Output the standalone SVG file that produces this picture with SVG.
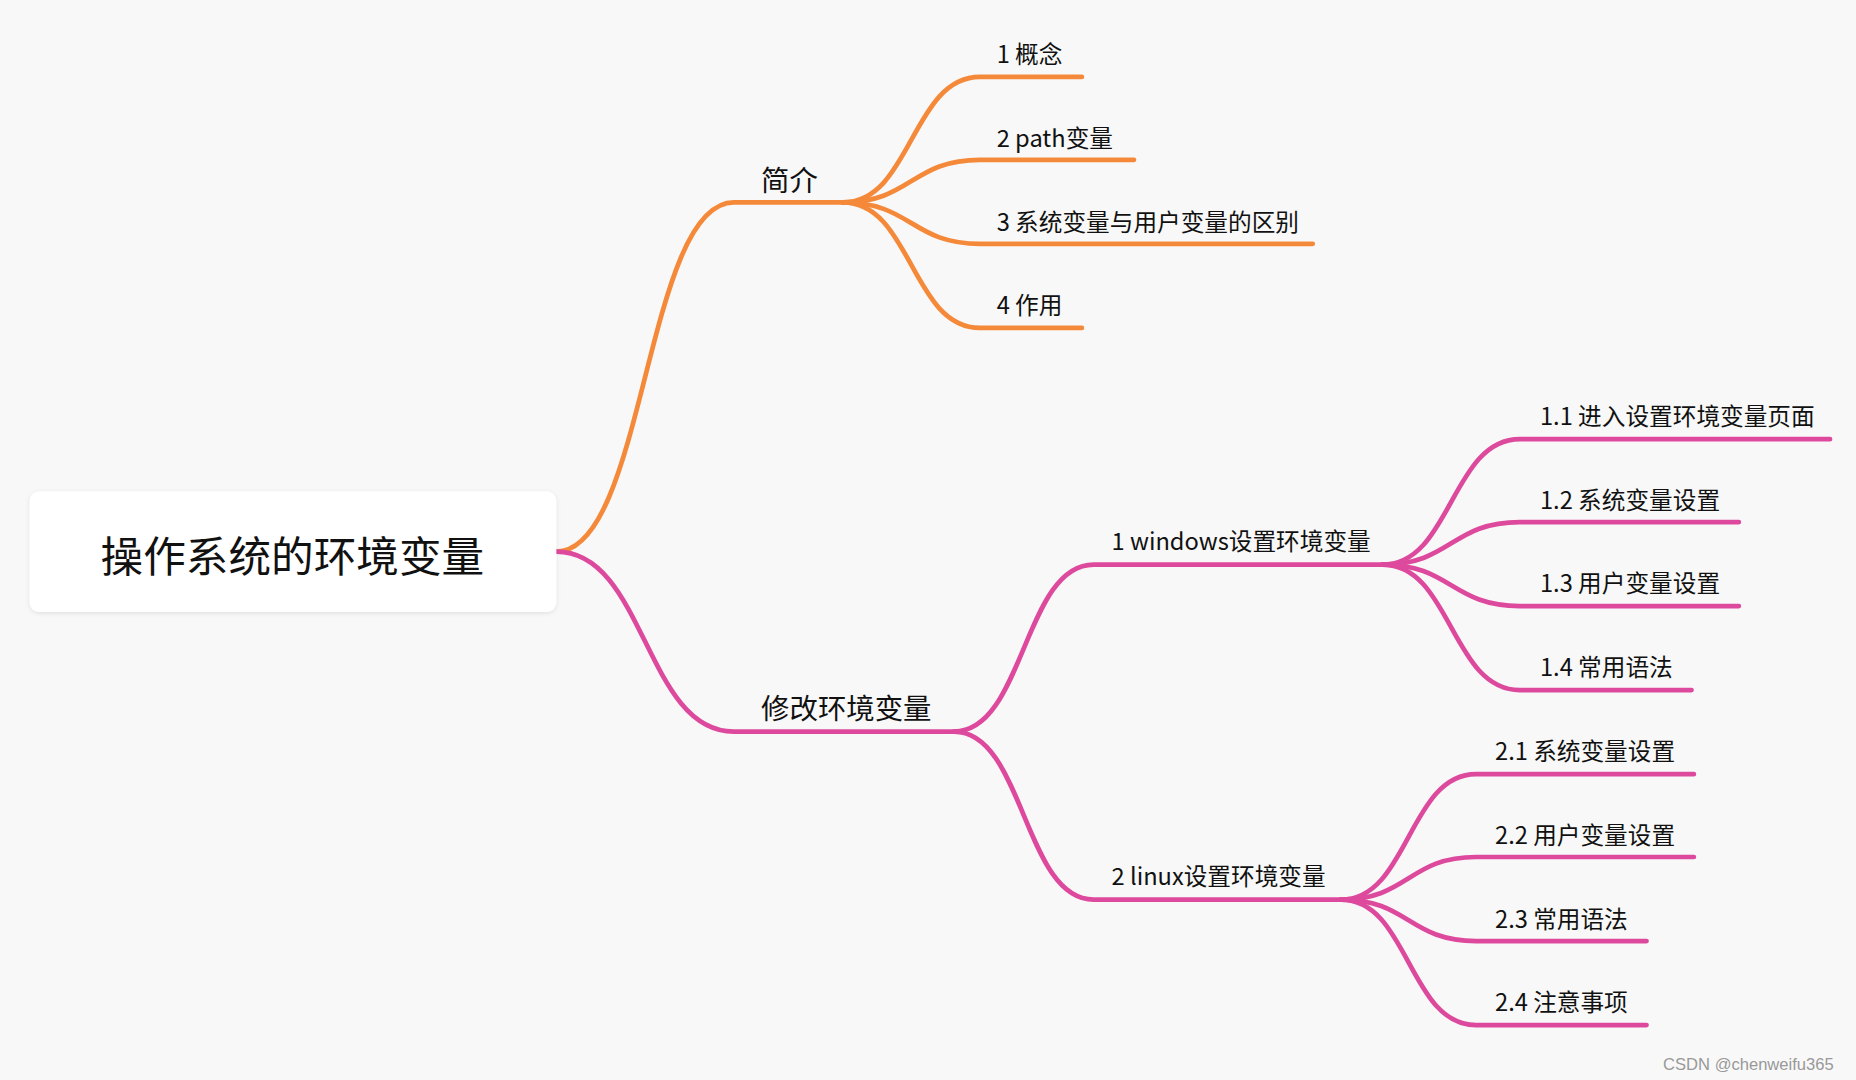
<svg xmlns="http://www.w3.org/2000/svg" width="1856" height="1080" viewBox="0 0 1856 1080">
<style>
.o{fill:none;stroke:#F5893A;stroke-width:4;stroke-linecap:round}
.p{fill:none;stroke:#DD4A9D;stroke-width:4;stroke-linecap:round}
text{font-family:"Noto Sans CJK SC","Microsoft YaHei",sans-serif;fill:#111}
.t1{font-size:24px}.t2{font-size:20px}
</style>
<defs><filter id="sh" x="-10%" y="-20%" width="120%" height="140%"><feDropShadow dx="0" dy="1" stdDeviation="2" flood-color="#000" flood-opacity="0.1"/></filter></defs>
<rect width="1856" height="1080" fill="#F8F8F8"/>
<g transform="scale(1.1837)">
<g id="connectors">
<path class="o" d="M470,466 C545,466 545,171 620,171 H715"/>
<path class="o" d="M712,171 C770,171 770,65 828,65 H914"/>
<path class="o" d="M712,171 C770,171 770,135 828,135 H958"/>
<path class="o" d="M712,171 C770,171 770,206 828,206 H1109"/>
<path class="o" d="M712,171 C770,171 770,277 828,277 H914"/>
<path class="p" d="M470,466 C545,466 545,618 620,618 H810"/>
<path class="p" d="M806,618 C865,618 865,477 924,477 H1172"/>
<path class="p" d="M806,618 C865,618 865,760 924,760 H1137"/>
<path class="p" d="M1168,477 C1226,477 1226,371 1284,371 H1546"/>
<path class="p" d="M1168,477 C1226,477 1226,441 1284,441 H1469"/>
<path class="p" d="M1168,477 C1226,477 1226,512 1284,512 H1469"/>
<path class="p" d="M1168,477 C1226,477 1226,583 1284,583 H1429"/>
<path class="p" d="M1133,760 C1190,760 1190,654 1247,654 H1431"/>
<path class="p" d="M1133,760 C1190,760 1190,724 1247,724 H1431"/>
<path class="p" d="M1133,760 C1190,760 1190,795 1247,795 H1391"/>
<path class="p" d="M1133,760 C1190,760 1190,866 1247,866 H1391"/>
</g>
<g id="root"><rect x="25" y="415" width="445" height="102" rx="8" fill="#fff" filter="url(#sh)"/><text x="247" y="483" font-size="36" text-anchor="middle" fill="#333">操作系统的环境变量</text></g>
<g id="n1"><text class="t1" x="643" y="161">简介</text></g>
<g id="n11"><text class="t2" x="842" y="53">1 概念</text></g>
<g id="n12"><text class="t2" x="842" y="124">2 path变量</text></g>
<g id="n13"><text class="t2" x="842" y="195">3 系统变量与用户变量的区别</text></g>
<g id="n14"><text class="t2" x="842" y="265">4 作用</text></g>
<g id="n2"><text class="t1" x="643" y="607">修改环境变量</text></g>
<g id="n21"><text class="t2" x="939" y="465">1 windows设置环境变量</text></g>
<g id="n211"><text class="t2" x="1301" y="359">1.1 进入设置环境变量页面</text></g>
<g id="n212"><text class="t2" x="1301" y="430">1.2 系统变量设置</text></g>
<g id="n213"><text class="t2" x="1301" y="500">1.3 用户变量设置</text></g>
<g id="n214"><text class="t2" x="1301" y="571">1.4 常用语法</text></g>
<g id="n22"><text class="t2" x="939" y="748">2 linux设置环境变量</text></g>
<g id="n221"><text class="t2" x="1263" y="642">2.1 系统变量设置</text></g>
<g id="n222"><text class="t2" x="1263" y="713">2.2 用户变量设置</text></g>
<g id="n223"><text class="t2" x="1263" y="784">2.3 常用语法</text></g>
<g id="n224"><text class="t2" x="1263" y="854">2.4 注意事项</text></g>
<text x="1405" y="904" font-size="14" style="font-family:'Liberation Sans',sans-serif;fill:#999">CSDN @chenweifu365</text>
</g>
</svg>
